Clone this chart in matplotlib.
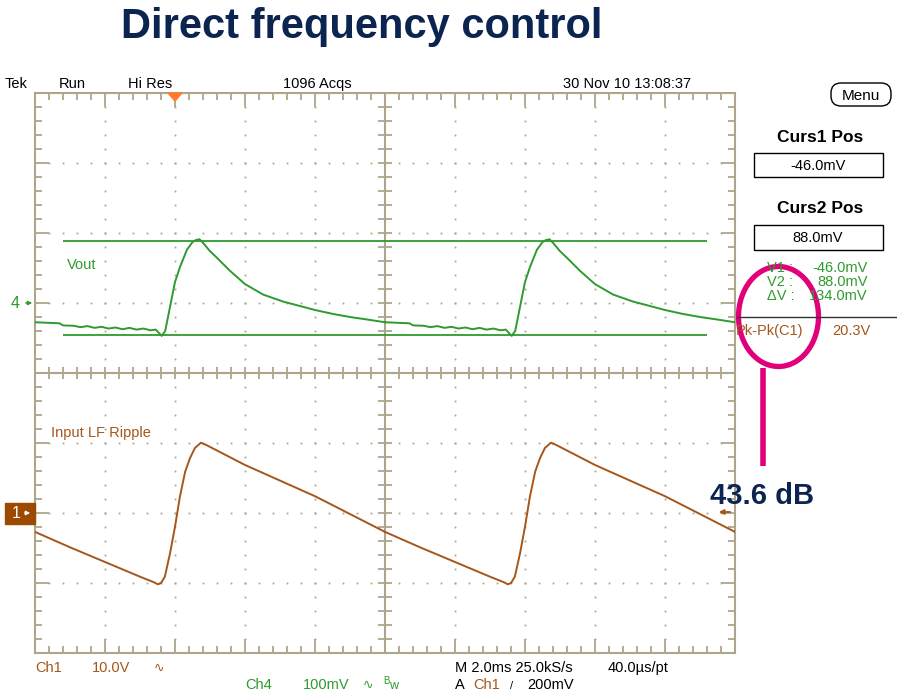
"""
plot.py
-------
Redraw of the Tektronix screen capture "Direct frequency control":
Vout (Ch4) and the input LF ripple (Ch1), two 10 ms cycles.
"""

import numpy as np
import matplotlib.pyplot as plt
from matplotlib.patches import Rectangle, Ellipse, FancyBboxPatch, Polygon
from matplotlib.ticker import MultipleLocator

W, H = 897, 692

# --- data -----------------------------------------------------------------
# one cycle, time in ms from the left edge of the screen
vout_t = [0.0, 0.7, 0.8, 1.1, 1.3, 1.5, 1.7, 1.9, 2.1, 2.3, 2.5, 2.7, 2.9,
          3.1, 3.3, 3.45, 3.62, 3.72, 3.8, 3.9, 4.0, 4.14, 4.34, 4.5, 4.6,
          4.7, 4.8, 5.0, 5.19, 5.57, 6.0, 6.52, 7.09, 7.57, 8.0, 8.52, 9.0,
          9.48, 10.0]
vout_mv = [-27.5, -29.0, -32.0, -32.5, -34.5, -33.0, -35.5, -34.0, -36.5,
           -35.0, -37.5, -35.5, -38.0, -36.5, -39.0, -38.0, -47.0, -40.0,
           -20.0, 5.0, 30.0, 51.0, 76.0, 87.0, 90.0, 91.0, 86.0, 74.0, 65.0,
           46.0, 27.0, 12.0, 2.0, -4.3, -10.0, -15.7, -20.0, -23.5, -27.5]

ripple_t = [0.0, 1.0, 2.0, 3.0, 3.4, 3.51, 3.6, 3.71, 3.86, 4.0, 4.14, 4.29,
            4.43, 4.57, 4.74, 4.9, 6.0, 8.0, 10.0]
ripple_v = [-2.7, -4.9, -7.0, -9.1, -9.9, -10.19, -10.0, -9.1, -5.71, -1.96,
            2.33, 5.9, 7.86, 9.29, 10.04, 9.7, 6.86, 2.4, -2.7]

n_cycles = 2
period_ms = 10.0

cursor_mv = [-46.0, 88.0]          # Curs1, Curs2
cursor_span = [0.8, 19.2]          # ms

# scope settings
ch4_mv_per_div = 100.0
ch4_ground_div = 1.0
ch1_v_per_div = 10.0
ch1_ground_div = -2.0

# --- colours ----------------------------------------------------------------
GRAT = "#ada68c"
GREEN = "#2f9a2f"
ORANGE = "#a5561a"
NAVY = "#0c2550"
MAGENTA = "#e2007a"
SCOPE_FONT = ["Liberation Sans", "DejaVu Sans"]

fig = plt.figure(figsize=(W / 100, H / 100), dpi=100)
fig.patch.set_facecolor("white")

# --- scope screen -----------------------------------------------------------
sc = fig.add_axes([35 / W, (H - 653) / H, 700 / W, 560 / H])
sc.set_xlim(0, 20)
sc.set_ylim(-4, 4)
for sp in sc.spines.values():
    sp.set_color(GRAT)
    sp.set_linewidth(1.5)
sc.xaxis.set_major_locator(MultipleLocator(2))
sc.xaxis.set_minor_locator(MultipleLocator(0.4))
sc.yaxis.set_major_locator(MultipleLocator(1))
sc.yaxis.set_minor_locator(MultipleLocator(0.2))
sc.tick_params(which="both", direction="in", top=True, right=True,
               labelbottom=False, labelleft=False, color=GRAT, width=1.3)
sc.tick_params(which="major", length=10)
sc.tick_params(which="minor", length=5)

# dotted graticule
for gx in [2, 4, 6, 8, 12, 14, 16, 18]:
    ys = np.arange(-4, 4.01, 0.2)
    sc.plot(np.full_like(ys, gx), ys, ls="none", marker="s", ms=1.3,
            mew=0, color=GRAT, zorder=1)
for gy in [-3, -2, -1, 1, 2, 3]:
    xs = np.arange(0, 20.01, 0.4)
    sc.plot(xs, np.full_like(xs, gy), ls="none", marker="s", ms=1.3,
            mew=0, color=GRAT, zorder=1)

# centre cross with its ticks
sc.axvline(10, color=GRAT, lw=1.5, zorder=1)
sc.axhline(0, color=GRAT, lw=1.5, zorder=1)
xs = np.arange(0.4, 20, 0.4)
sc.plot(xs, np.zeros_like(xs), ls="none", marker="|", ms=8, mew=1.3,
        color=GRAT, zorder=1)
ys = np.arange(-3.8, 4, 0.2)
sc.plot(np.full_like(ys, 10), ys, ls="none", marker="_", ms=10, mew=1.3,
        color=GRAT, zorder=1)

# cursors on Ch4
cur_div = [ch4_ground_div + v / ch4_mv_per_div for v in cursor_mv]
sc.hlines(cur_div, cursor_span[0], cursor_span[1], color=GREEN, lw=1.3,
          zorder=2)

# traces
for k in range(n_cycles):
    off = k * period_ms
    sc.plot(np.array(vout_t) + off,
            ch4_ground_div + np.array(vout_mv) / ch4_mv_per_div,
            color=GREEN, lw=1.4, zorder=3)
    sc.plot(np.array(ripple_t) + off,
            ch1_ground_div + np.array(ripple_v) / ch1_v_per_div,
            color=ORANGE, lw=1.4, zorder=3)

sc.text(0.9, 1.48, "Vout", color=GREEN, fontsize=10.5, family=SCOPE_FONT)
sc.text(0.45, -0.92, "Input LF Ripple", color=ORANGE, fontsize=10.5,
        family=SCOPE_FONT)

# --- overlay in pixel coordinates ---------------------------------------------
ov = fig.add_axes([0, 0, 1, 1], zorder=5)
ov.set_xlim(0, W)
ov.set_ylim(H, 0)
ov.axis("off")
ov.patch.set_alpha(0)


def stxt(x, y, s, color="black", size=10.5, **kw):
    kw.setdefault("family", SCOPE_FONT)
    ov.text(x, y, s, color=color, fontsize=size, va="baseline", **kw)


ov.text(362, 38, "Direct frequency control", fontsize=30, fontweight="bold",
        color=NAVY, ha="center", va="baseline", family="Liberation Sans")

# header line
stxt(5, 88, "Tek")
stxt(59, 88, "Run")
stxt(128, 88, "Hi Res")
stxt(283, 88, "1096 Acqs")
stxt(563, 88, "30 Nov 10 13:08:37")
ov.add_patch(Polygon([(168, 93), (182, 93), (175, 101)], color="#ff7a2a"))

# channel markers
stxt(11, 308, "4", color=GREEN, size=11.5)
ov.annotate("", xy=(35, 303), xytext=(23, 303),
            arrowprops=dict(arrowstyle="-|>", color=GREEN, lw=1,
                            mutation_scale=6))
ov.add_patch(Rectangle((5, 503), 30, 21, color="#9c4a00"))
stxt(12, 518, "1", color="white", size=11.5)
ov.annotate("", xy=(33, 513), xytext=(22, 513),
            arrowprops=dict(arrowstyle="-|>", color="white", lw=1,
                            mutation_scale=6))
ov.annotate("", xy=(716, 512), xytext=(733, 512),
            arrowprops=dict(arrowstyle="-|>", color=ORANGE, lw=1.3,
                            mutation_scale=7))

# bottom status lines
stxt(35, 672, "Ch1", color=ORANGE)
stxt(92, 672, "10.0V", color=ORANGE)
stxt(154, 672, "\u223f", color=ORANGE, family="DejaVu Sans", size=9)
stxt(245, 689, "Ch4", color=GREEN)
stxt(303, 689, "100mV", color=GREEN)
stxt(363, 689, "\u223f", color=GREEN, family="DejaVu Sans", size=9)
stxt(383, 684, "B", color=GREEN, size=7)
stxt(389, 689, "w", color=GREEN, size=9)
stxt(455, 672, "M 2.0ms 25.0kS/s")
stxt(608, 672, "40.0\u00b5s/pt")
stxt(455, 689, "A")
stxt(473, 689, "Ch1", color=ORANGE)
stxt(510, 689, "/", size=8)
stxt(527, 689, "200mV")

# right-hand menu panel
ov.add_patch(FancyBboxPatch((831, 83), 60, 23,
                            boxstyle="round,pad=0,rounding_size=10",
                            fc="white", ec="black", lw=1))
stxt(861, 100, "Menu", ha="center", size=11)
stxt(820, 142, "Curs1 Pos", size=12.5, fontweight="bold", ha="center")
ov.add_patch(Rectangle((754, 153), 129, 24, fc="white", ec="black", lw=1))
stxt(818, 170, "-46.0mV", ha="center")
stxt(820, 213, "Curs2 Pos", size=12.5, fontweight="bold", ha="center")
ov.add_patch(Rectangle((754, 225), 129, 25, fc="white", ec="black", lw=1))
stxt(818, 242, "88.0mV", ha="center")

stxt(767, 272, "V1 :", color=GREEN)
stxt(868, 272, "-46.0mV", color=GREEN, ha="right")
stxt(767, 286, "V2 :", color=GREEN)
stxt(868, 286, "88.0mV", color=GREEN, ha="right")
stxt(767, 300, "\u0394V :", color=GREEN)
stxt(868, 300, "134.0mV", color=GREEN, ha="right")
ov.plot([737, W], [317, 317], color="#333333", lw=1)
stxt(736, 335, "Pk-Pk(C1)", color=ORANGE)
stxt(832, 335, "20.3V", color=ORANGE)

# callout
ov.add_patch(Ellipse((778.5, 316.5), 80, 100, fill=False, ec=MAGENTA,
                     lw=3.8))
ov.plot([763, 763], [368, 466], color=MAGENTA, lw=4, solid_capstyle="butt")
ov.text(710, 504, "43.6 dB", fontsize=21, fontweight="bold", color=NAVY,
        va="baseline", family="Liberation Sans")

fig.savefig("out.png", dpi=100)
